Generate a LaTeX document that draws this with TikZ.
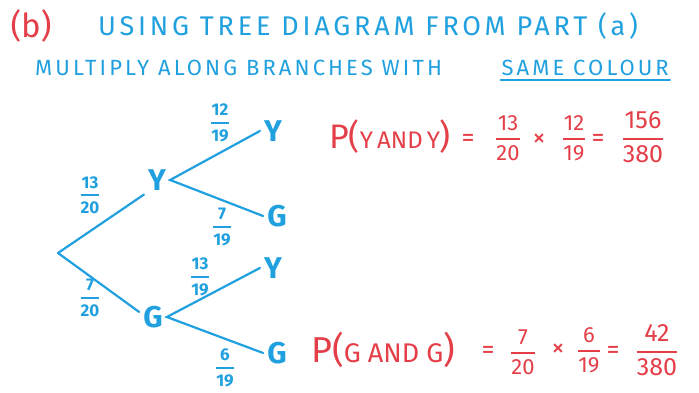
\documentclass[tikz,border=0pt]{standalone}
\usepackage{amsmath}
\usepackage{fontspec}
\setmainfont{Fira Sans}
\newfontfamily\handfont[LetterSpace=14]{Fira Sans}
\definecolor{penblue}{RGB}{32,160,222}
\definecolor{penred}{RGB}{228,62,72}
% hand-drawn looking fraction with a thick bar
\newcommand\hfr[2]{\ensuremath{\genfrac{}{}{1.8pt}{0}{\text{#1}}{\text{#2}}}}
\begin{document}
\begin{tikzpicture}[x=1pt, y=-1pt, every node/.style={inner sep=1pt},
  title/.style={penblue, font=\fontsize{22}{22}\selectfont\handfont},
  branch/.style={penblue, line width=2.2pt, line cap=round},
  leaf/.style={penblue, inner sep=4pt, font=\fontsize{30}{30}\selectfont\bfseries},
  prob/.style={penblue, font=\fontsize{17}{17}\selectfont\bfseries},
  eqn/.style={penred, font=\fontsize{26}{26}\selectfont},
  efrac/.style={penred, font=\fontsize{22}{22}\selectfont}]
  \useasboundingbox (0,0) rectangle (699,392);
  % heading
  \node[penred, font=\fontsize{33}{33}\selectfont] (part) at (31,26) {(b)};
  \node[title, font=\fontsize{27}{27}\selectfont\handfont] (head) at (368,26) {USING TREE DIAGRAM FROM PART (a)};
  \node[title, anchor=west] (task) at (34,68) {MULTIPLY ALONG BRANCHES WITH};
  \node[title, anchor=east] (same) at (670,68) {SAME COLOUR};
  \draw[branch, line width=1.6pt] ([yshift=-3pt]same.south west) -- ([yshift=-3pt]same.south east);
  % tree
  \coordinate (root) at (58,253);
  \node[leaf] (y1) at (157,180) {Y};
  \node[leaf] (g1) at (153,317) {G};
  \node[leaf] (yy) at (273,131) {Y};
  \node[leaf] (yg) at (277,216) {G};
  \node[leaf] (gy) at (273,268) {Y};
  \node[leaf] (gg) at (277,353) {G};
  \draw[branch] (root) -- (y1.south west);
  \draw[branch] (root) -- (g1.160);
  \draw[branch] (yy.west) -- (y1.east) -- (yg.west);
  \draw[branch] (gy.west) -- (g1.east) -- (gg.west);
  \node[prob] (pY) at (90,195) {\hfr{13}{20}};
  \node[prob] (pG) at (90,298) {\hfr{7}{20}};
  \node[prob] (pYY) at (220,123) {\hfr{12}{19}};
  \node[prob] (pYG) at (222,227) {\hfr{7}{19}};
  \node[prob] (pGY) at (200,277) {\hfr{13}{19}};
  \node[prob] (pGG) at (225,368) {\hfr{6}{19}};
  % yellow then yellow
  \node[eqn, anchor=west] (lhsY) at (328,137) {\fontsize{34}{34}\selectfont P(\fontsize{24}{24}\selectfont Y\,AND\,Y\fontsize{34}{34}\selectfont)};
  \node[eqn] (eqY1) at (468,140) {=};
  \node[efrac] (fY1) at (508,138) {\hfr{13}{20}};
  \node[eqn] (xY) at (539,140) {×};
  \node[efrac] (fY2) at (574,138) {\hfr{12}{19}};
  \node[eqn] (eqY2) at (598,140) {=};
  \node[efrac, font=\fontsize{25}{25}\selectfont] (fY3) at (643,137) {\hfr{156}{380}};
  % green then green
  \node[eqn, anchor=west] (lhsG) at (310,350) {\fontsize{36}{36}\selectfont P(\fontsize{27}{27}\selectfont G AND G\fontsize{36}{36}\selectfont)};
  \node[eqn] (eqG1) at (488,352) {=};
  \node[efrac] (fG1) at (523,352) {\hfr{7}{20}};
  \node[eqn] (xG) at (558,350) {×};
  \node[efrac] (fG2) at (589,350) {\hfr{6}{19}};
  \node[eqn] (eqG2) at (613,352) {=};
  \node[efrac, font=\fontsize{25}{25}\selectfont] (fG3) at (657,350) {\hfr{42}{380}};
\end{tikzpicture}
\end{document}
